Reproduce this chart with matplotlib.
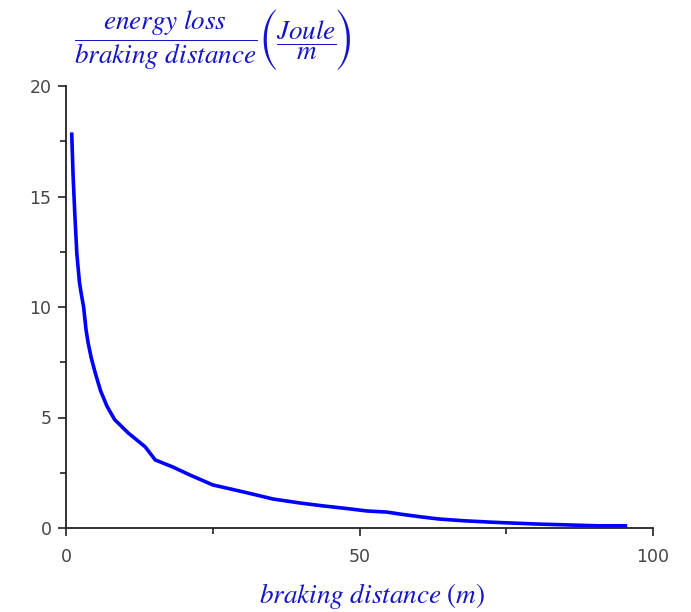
import numpy as np
import matplotlib
matplotlib.use("Agg")
import matplotlib.pyplot as plt
from matplotlib.ticker import MultipleLocator

# braking distance (m) and energy loss per metre (J/m)
dist = [0.97, 1.2, 1.5, 1.85, 2.3, 2.6, 3.0, 3.4, 3.75, 4.3, 5.0, 5.9,
        7.0, 8.3, 10.6, 13.5, 15.2, 18.2, 21.1, 25.0, 29.6, 32.5, 35.3,
        39.9, 43.8, 47.2, 51.3, 54.7, 56.9, 60.3, 63.4, 67.6, 72.7, 80.2,
        90.5, 95.6]
loss = [17.9, 16.0, 14.2, 12.4, 11.1, 10.6, 10.0, 9.0, 8.4, 7.7, 7.0, 6.2,
        5.5, 4.9, 4.3, 3.67, 3.08, 2.76, 2.40, 1.95, 1.67, 1.49, 1.31,
        1.13, 1.0, 0.9, 0.77, 0.72, 0.63, 0.51, 0.41, 0.33, 0.26, 0.18,
        0.10, 0.10]

xticks = [0, 50, 100]
yticks = [0, 5, 10, 15, 20]

plt.rcParams["mathtext.fontset"] = "stix"
plt.rcParams["font.family"] = ["DejaVu Sans"]

W, H = 691, 612
fig = plt.figure(figsize=(W / 100, H / 100), dpi=100)
ax = fig.add_axes([66 / W, 1 - 528 / H, 587 / W, 442 / H])

ax.plot(dist, loss, color="#0000ff", lw=2.6, solid_joinstyle="round",
        solid_capstyle="butt")

ax.set_xlim(0, 100)
ax.set_ylim(0, 20)
ax.set_xticks(xticks)
ax.set_yticks(yticks)
ax.xaxis.set_minor_locator(MultipleLocator(25))
ax.yaxis.set_minor_locator(MultipleLocator(2.5))

for side in ["top", "right"]:
    ax.spines[side].set_visible(False)
for side in ["left", "bottom"]:
    ax.spines[side].set_linewidth(1.3)
    ax.spines[side].set_color("#222222")

ax.tick_params(which="major", direction="out", length=6, width=1.2,
               color="#222222", labelsize=12.5, labelcolor="#454545")
ax.tick_params(which="minor", direction="out", length=4, width=1.2,
               color="#222222")
ax.tick_params(axis="y", which="major", pad=4.5)
ax.tick_params(axis="x", which="major", pad=8.5)

txt_color = "#1414c8"
fs = 19.5

# x axis title
fig.text(372 / W, 1 - 596 / H, r"$braking\ distance\ (m)$",
         ha="center", va="center", fontsize=fs, color=txt_color)

# y axis title above the axis: quantity as a fraction, then units in
# tall parentheses (sized STIX glyphs)
fig.text(166 / W, 1 - 40 / H, r"$\dfrac{energy\ loss}{braking\ distance}$",
         ha="center", va="center", fontsize=fs, color=txt_color)
fig.text(306 / W, 1 - 40 / H, r"$\dfrac{Joule}{m}$",
         ha="center", va="center", fontsize=fs, color=txt_color)
for ch, xp in [("(", 268.5), (")", 343)]:
    fig.text(xp / W, 1 - 40 / H, ch, ha="center", va="center",
             fontsize=24, color=txt_color, family="STIXSizeTwoSym")

fig.savefig("out.png", dpi=100)
plt.close(fig)
